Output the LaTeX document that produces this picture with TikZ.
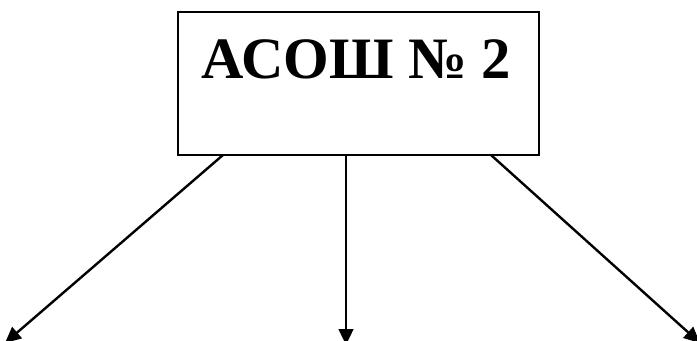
\documentclass[tikz,border=0pt]{standalone}
\usepackage{fontspec}
\setmainfont{Liberation Serif}
\usetikzlibrary{arrows.meta,calc}
\begin{document}
\begin{tikzpicture}[x=0.75pt,y=-0.75pt,
  conn/.style={line width=1.8pt,-{Triangle[length=12pt,width=11pt]}},
  boxst/.style={draw,line width=1.5pt,rectangle,inner sep=0pt}]
\useasboundingbox (0,0) rectangle (697,340);
\node[boxst,minimum width=361*0.75pt,minimum height=143*0.75pt] (box) at (358.5,83.5) {};
\node[anchor=base,inner sep=0pt,font=\fontsize{44}{50}\selectfont\bfseries] (title) at (356.5,78) {АСОШ № 2};
\coordinate (s1) at (223,155);
\coordinate (s2) at (346,155);
\coordinate (s3) at (491,155);
\coordinate (e1) at (5,343);
\coordinate (e2) at (346,345);
\coordinate (e3) at (700,343);
\draw[conn] (s1) -- (e1);
\draw[conn] (s2) -- (e2);
\draw[conn] (s3) -- (e3);
\end{tikzpicture}
\end{document}
